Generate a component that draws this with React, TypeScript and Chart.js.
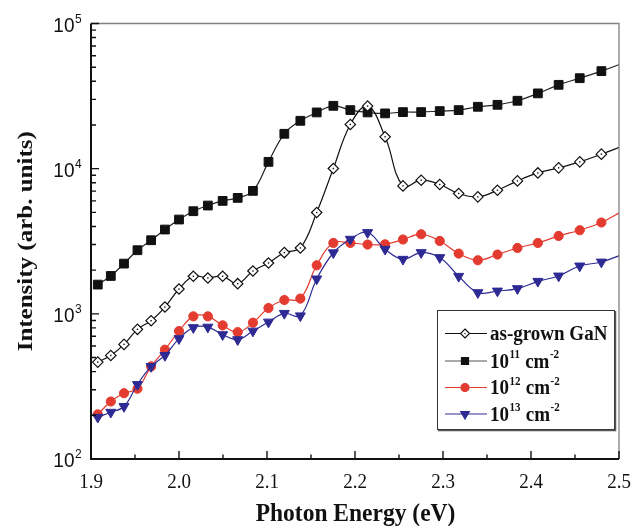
import { useEffect, useRef } from 'react';
import { Chart, registerables } from 'chart.js';

Chart.register(...registerables);

// Photon energy (eV) of each measured point
const photonEnergy = [
  1.9077, 1.9225, 1.9375, 1.9528, 1.9683, 1.984, 2.0, 2.0163, 2.0328, 2.0496, 2.0667,
  2.084, 2.1017, 2.1197, 2.1379, 2.1565, 2.1754, 2.1947, 2.2143, 2.2342, 2.2545, 2.2752,
  2.2963, 2.3178, 2.3396, 2.3619, 2.3846, 2.4078, 2.4314, 2.4554, 2.48, 2.5051,
];

const asGrown = [
  465, 517, 616, 782, 897, 1114, 1482, 1814, 1766, 1814, 1614, 1974, 2240, 2642, 2843, 4989,
  10030, 20170, 26980, 16570, 7609, 8331, 7779, 6745, 6393, 7108, 8237, 9350, 10130, 11140,
  12590, 14400,
];

const dose1e11 = [
  1590, 1823, 2218, 2742, 3213, 3808, 4463, 5093, 5572, 5998, 6290, 7030, 11140, 17390, 21370,
  24400, 27100, 25310, 24400, 24030, 24530, 24530, 24930, 25310, 26690, 27540, 29370, 33000,
  37800, 42000, 47000, 53500,
];

const dose1e12 = [
  203, 249, 284, 305, 434, 566, 761, 961, 961, 833, 748, 869, 1097, 1245, 1273, 2160, 3079,
  3079, 3000, 3011, 3250, 3535, 3177, 2600, 2339, 2561, 2843, 3079, 3440, 3767, 4256, 5150,
];

const dose1e13 = [
  194, 210, 230, 326, 434, 517, 675, 804, 810, 719, 664, 761, 878, 1008, 969, 1740, 2635, 3266,
  3631, 2786, 2377, 2642, 2441, 1814, 1400, 1436, 1492, 1675, 1823, 2137, 2275, 2580,
];

const xTickValues = [1.9, 2.0, 2.1, 2.2, 2.3, 2.4, 2.5];
const xTickLabels = ['1.9', '2.0', '2.1', '2.2', '2.3', '2.4', '2.5'];
const xMinorTicks = [1.95, 2.05, 2.15, 2.25, 2.35, 2.45];
const yDecades = [100, 1000, 10000, 100000];
const yExponents = ['2', '3', '4', '5'];
const yMinorFactors = [2, 3, 4, 5, 6, 7, 8, 9];

const xTitle = 'Photon Energy (eV)';
const yTitle = 'Intensity (arb. units)';

type Part = { t: string; sup?: boolean };
const legendEntries: Part[][] = [
  [{ t: 'as-grown GaN' }],
  [{ t: '10' }, { t: '11', sup: true }, { t: ' cm' }, { t: '-2', sup: true }],
  [{ t: '10' }, { t: '12', sup: true }, { t: ' cm' }, { t: '-2', sup: true }],
  [{ t: '10' }, { t: '13', sup: true }, { t: ' cm' }, { t: '-2', sup: true }],
];

const BLACK_LINE = '#222222';
const RED = '#e43b30';
const BLUE = '#2e2a94';

const legendStyles = [
  { shape: 'diamond', line: '#111111', fill: '#ffffff', stroke: '#111111' },
  { shape: 'square', line: '#555555', fill: '#111111', stroke: '#111111' },
  { shape: 'circle', line: RED, fill: RED, stroke: RED },
  { shape: 'triangle', line: BLUE, fill: BLUE, stroke: BLUE },
];

const SERIF = '"Liberation Serif", "Times New Roman", serif';
const SANS = '"Liberation Sans", Arial, sans-serif';

function toPoints(ys: number[]) {
  return photonEnergy.map((x, i) => ({ x, y: ys[i] }));
}

function radii(r: number) {
  return photonEnergy.map((x) => (x > 2.5 ? 0 : r));
}

function scaledText(
  ctx: CanvasRenderingContext2D,
  text: string,
  x: number,
  y: number,
  font: string,
  align: CanvasTextAlign,
  sy: number,
  baseline: CanvasTextBaseline = 'alphabetic'
) {
  ctx.save();
  ctx.translate(x, y);
  ctx.scale(1, sy);
  ctx.font = font;
  ctx.textAlign = align;
  ctx.textBaseline = baseline;
  ctx.fillText(text, 0, 0);
  ctx.restore();
}

function drawMarker(ctx: CanvasRenderingContext2D, shape: string, x: number, y: number, fill: string, stroke: string) {
  ctx.save();
  ctx.fillStyle = fill;
  ctx.strokeStyle = stroke;
  ctx.lineWidth = 1.2;
  ctx.beginPath();
  if (shape === 'diamond') {
    const r = 4.5;
    ctx.moveTo(x, y - r);
    ctx.lineTo(x + r, y);
    ctx.lineTo(x, y + r);
    ctx.lineTo(x - r, y);
    ctx.closePath();
  } else if (shape === 'square') {
    ctx.rect(x - 3.5, y - 3.5, 7, 7);
  } else if (shape === 'circle') {
    ctx.arc(x, y, 4, 0, Math.PI * 2);
  } else {
    const r = 5;
    ctx.moveTo(x - r * 0.866, y - r * 0.5);
    ctx.lineTo(x + r * 0.866, y - r * 0.5);
    ctx.lineTo(x, y + r);
    ctx.closePath();
  }
  ctx.fill();
  ctx.stroke();
  if (shape === 'diamond') {
    ctx.fillStyle = '#111';
    ctx.fillRect(x - 0.6, y - 0.6, 1.2, 1.2);
  }
  ctx.restore();
}

const decorPlugin = {
  id: 'decor',
  afterDatasetsDraw(chart: any) {
    const ctx: CanvasRenderingContext2D = chart.ctx;
    const meta = chart.getDatasetMeta(0);
    ctx.save();
    ctx.fillStyle = '#111';
    meta.data.forEach((el: any, i: number) => {
      if (photonEnergy[i] <= 2.5) ctx.fillRect(el.x - 0.7, el.y - 0.7, 1.4, 1.4);
    });
    ctx.restore();
  },
  afterDraw(chart: any) {
    const ctx: CanvasRenderingContext2D = chart.ctx;
    const { left, right, top, bottom } = chart.chartArea;
    const xs = chart.scales.x;
    const ys = chart.scales.y;

    ctx.save();
    // frame: top/right grey, left/bottom black
    ctx.strokeStyle = '#808080';
    ctx.lineWidth = 1.3;
    ctx.beginPath();
    ctx.moveTo(left, top);
    ctx.lineTo(right, top);
    ctx.lineTo(right, bottom);
    ctx.stroke();

    ctx.strokeStyle = '#111';
    ctx.lineWidth = 2;
    ctx.beginPath();
    ctx.moveTo(left, top);
    ctx.lineTo(left, bottom);
    ctx.lineTo(right, bottom);
    ctx.stroke();

    // x ticks (inward)
    ctx.lineWidth = 1.4;
    ctx.beginPath();
    xTickValues.forEach((v) => {
      const px = xs.getPixelForValue(v);
      ctx.moveTo(px, bottom);
      ctx.lineTo(px, bottom - 8);
    });
    xMinorTicks.forEach((v) => {
      const px = xs.getPixelForValue(v);
      ctx.moveTo(px, bottom);
      ctx.lineTo(px, bottom - 4.5);
    });
    // y ticks (inward)
    yDecades.forEach((d, di) => {
      const py = ys.getPixelForValue(d);
      ctx.moveTo(left, py);
      ctx.lineTo(left + 8, py);
      if (di < yDecades.length - 1) {
        yMinorFactors.forEach((f) => {
          const pm = ys.getPixelForValue(d * f);
          ctx.moveTo(left, pm);
          ctx.lineTo(left + 5, pm);
        });
      }
    });
    ctx.stroke();

    ctx.fillStyle = '#111';
    // x tick labels
    xTickValues.forEach((v, i) => {
      const px = xs.getPixelForValue(v);
      scaledText(ctx, xTickLabels[i], px, bottom + 28.5, `19px ${SERIF}`, 'center', 1.1);
    });
    // y tick labels with superscripts
    yDecades.forEach((d, i) => {
      const py = ys.getPixelForValue(d);
      scaledText(ctx, '10', left - 16.5, py + 8.3, `19px ${SANS}`, 'right', 1.05);
      scaledText(ctx, yExponents[i], left - 16, py - 1, `12px ${SANS}`, 'left', 1.05);
    });

    // axis titles
    scaledText(ctx, xTitle, (left + right) / 2 + 0.5, bottom + 62, `bold 23.5px ${SERIF}`, 'center', 1.07);
    ctx.save();
    ctx.translate(26, (top + bottom) / 2);
    ctx.rotate(-Math.PI / 2);
    ctx.scale(1, 0.88);
    ctx.font = `bold 25px ${SERIF}`;
    ctx.textAlign = 'center';
    ctx.textBaseline = 'middle';
    ctx.fillText(yTitle, 0, 0);
    ctx.restore();

    // legend box
    const bx = 437, by = 310, bw = 177, bh = 119;
    ctx.fillStyle = '#fff';
    ctx.fillRect(bx, by, bw, bh);
    ctx.strokeStyle = '#333';
    ctx.lineWidth = 1;
    ctx.strokeRect(bx + 0.5, by + 0.5, bw, bh);
    ctx.strokeStyle = '#555';
    ctx.lineWidth = 1.5;
    ctx.beginPath();
    ctx.moveTo(bx + bw + 1.5, by + 1);
    ctx.lineTo(bx + bw + 1.5, by + bh + 1.5);
    ctx.lineTo(bx + 1, by + bh + 1.5);
    ctx.stroke();

    const baselines = [340, 367.5, 394, 420.5];
    legendEntries.forEach((parts, i) => {
      const st = legendStyles[i];
      const yb = baselines[i];
      const ym = yb - 6.5;
      ctx.strokeStyle = st.line;
      ctx.lineWidth = 1.2;
      ctx.beginPath();
      ctx.moveTo(445, ym);
      ctx.lineTo(487, ym);
      ctx.stroke();
      drawMarker(ctx, st.shape, 465, ym, st.fill, st.stroke);

      let x = 490;
      ctx.fillStyle = '#111';
      parts.forEach((p) => {
        const font = p.sup ? `bold 11px ${SERIF}` : `bold 19px ${SERIF}`;
        ctx.font = font;
        const w = ctx.measureText(p.t).width;
        scaledText(ctx, p.t, x, p.sup ? yb - 9.5 : yb, font, 'left', 1.08);
        x += w + 0.5;
      });
    });
    ctx.restore();
  },
};

export default function App() {
  const ref = useRef<HTMLCanvasElement | null>(null);

  useEffect(() => {
    if (!ref.current) return;
    const chart = new Chart(ref.current, {
      type: 'line',
      data: {
        datasets: [
          {
            label: 'as-grown GaN',
            data: toPoints(asGrown),
            borderColor: '#111',
            borderWidth: 1.2,
            pointStyle: 'rectRot',
            pointRadius: radii(5.2),
            pointBackgroundColor: '#fff',
            pointBorderColor: '#111',
            pointBorderWidth: 1.2,
            tension: 0.4,
            order: 0,
          },
          {
            label: '10^11 cm^-2',
            data: toPoints(dose1e11),
            borderColor: BLACK_LINE,
            borderWidth: 1.2,
            pointStyle: 'rect',
            pointRadius: radii(6.2),
            pointBackgroundColor: '#111',
            pointBorderColor: '#111',
            pointBorderWidth: 1,
            tension: 0.4,
            order: 3,
          },
          {
            label: '10^12 cm^-2',
            data: toPoints(dose1e12),
            borderColor: RED,
            borderWidth: 1.2,
            pointStyle: 'circle',
            pointRadius: radii(4.6),
            pointBackgroundColor: RED,
            pointBorderColor: RED,
            pointBorderWidth: 1,
            tension: 0.4,
            order: 2,
          },
          {
            label: '10^13 cm^-2',
            data: toPoints(dose1e13),
            borderColor: BLUE,
            borderWidth: 1.2,
            pointStyle: 'triangle',
            pointRotation: 180,
            pointRadius: radii(5.8),
            pointBackgroundColor: BLUE,
            pointBorderColor: BLUE,
            pointBorderWidth: 1,
            tension: 0.4,
            order: 1,
          },
        ],
      },
      options: {
        animation: false,
        responsive: false,
        maintainAspectRatio: false,
        layout: { padding: { left: 91, right: 23, top: 23.5, bottom: 67 } },
        plugins: { legend: { display: false }, tooltip: { enabled: false } },
        scales: {
          x: { type: 'linear', min: 1.9, max: 2.5, display: false },
          y: { type: 'logarithmic', min: 100, max: 100000, display: false },
        },
      },
      plugins: [decorPlugin],
    });
    return () => chart.destroy();
  }, []);

  return (
    <div style={{ position: 'absolute', left: 0, top: 0, width: 642, height: 526, background: '#fff' }}>
      <canvas ref={ref} width={642} height={526} style={{ display: 'block' }} />
    </div>
  );
}
